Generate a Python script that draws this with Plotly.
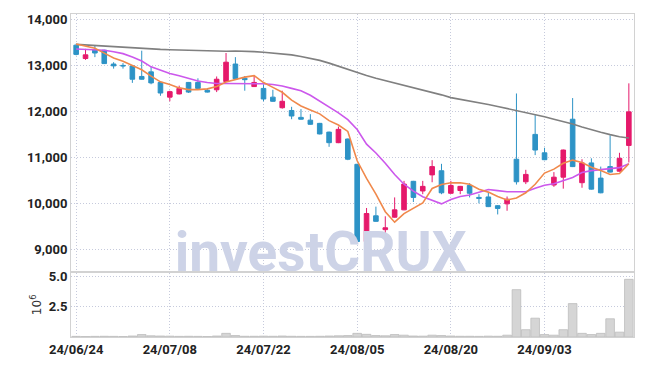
import plotly.graph_objects as go
from plotly.subplots import make_subplots

dates = ["24/06/24","24/06/25","24/06/26","24/06/27","24/06/28",
         "24/07/01","24/07/02","24/07/03","24/07/04","24/07/05",
         "24/07/08","24/07/09","24/07/10","24/07/11","24/07/12",
         "24/07/15","24/07/16","24/07/17","24/07/18","24/07/19",
         "24/07/22","24/07/23","24/07/24","24/07/25","24/07/26",
         "24/07/29","24/07/30","24/07/31","24/08/01","24/08/02",
         "24/08/05","24/08/06","24/08/07","24/08/08","24/08/09",
         "24/08/12","24/08/13","24/08/14","24/08/16","24/08/19",
         "24/08/20","24/08/21","24/08/22","24/08/23","24/08/26",
         "24/08/27","24/08/28","24/08/29","24/08/30","24/09/02",
         "24/09/03","24/09/04","24/09/05","24/09/06","24/09/09",
         "24/09/10","24/09/11","24/09/12","24/09/13","24/09/19"]

open_ = [13450,13160,13350,13340,13040,13010,13000,12770,12870,12640,
         12320,12390,12640,12640,12470,12480,12660,13040,12730,12550,
         12510,12320,12090,12030,11880,11820,11750,11560,11330,11410,
         10860,9180,9740,9440,9710,9870,10490,10280,10630,10720,
         10230,10290,10400,10140,10150,9960,10000,10970,10480,11510,
         11110,10410,10580,11840,10460,10890,10560,10810,10710,11270]
high = [13480,13370,13440,13350,13080,13060,13010,13330,12980,12650,
        12460,12570,12650,12730,12510,12770,13280,13190,12780,12790,
        12600,12480,12460,12110,12060,11950,11760,11570,11680,11420,
        10870,9910,9940,9730,10140,10500,10500,10500,10950,10870,
        10500,10390,10450,10210,10240,9970,10160,12400,10740,11930,
        11220,10690,11180,12300,10970,10990,10810,11490,11110,12620]
low = [13230,13130,13190,13040,12940,12940,12630,12700,12600,12350,
       12230,12380,12410,12500,12420,12430,12650,12710,12460,12540,
       12230,12220,12070,11840,11830,11720,11510,11240,11320,10950,
       9170,9170,9610,9290,9700,9860,10040,10210,10470,10210,
       10220,10210,10140,10010,9930,9770,9850,10420,10430,11060,
       10950,10370,10330,10800,10350,10310,10230,10680,10700,10900]
close = [13250,13240,13280,13050,13000,13000,12710,12710,12630,12410,
         12440,12510,12430,12510,12430,12710,13080,12720,12700,12640,
         12280,12230,12230,11910,11840,11730,11520,11330,11620,10970,
         9180,9790,9620,9480,9870,10430,10140,10380,10810,10240,
         10400,10380,10230,10120,9940,9900,10100,10480,10640,11170,
         10960,10580,11170,10810,10890,10320,10240,10690,10990,12000]

ma5 = [13474,13432,13383,13277,13170,13100,13011,12915,12777,12653,
       12596,12521,12483,12483,12500,12553,12649,12702,12755,12787,
       12638,12532,12426,12255,12128,12043,11957,11809,11713,11574,
       10936,10553,10213,9830,9602,9787,9904,10021,10334,10419,
       10457,10457,10426,10319,10255,10160,10085,10128,10240,10426,
       10670,10755,10883,10951,10900,10798,10723,10638,10660,10872]
ma20 = [13368,13362,13355,13340,13309,13266,13191,13106,12979,12904,
        12836,12787,12734,12670,12638,12617,12617,12617,12617,12617,
        12610,12596,12564,12511,12457,12362,12234,12106,11979,11830,
        11617,11298,11106,10883,10638,10426,10277,10155,10085,10000,
        10096,10160,10191,10255,10313,10287,10262,10262,10262,10340,
        10404,10436,10511,10574,10681,10723,10745,10766,10787,10872]
ma120 = [13468,13455,13440,13428,13410,13394,13385,13375,13365,13358,
         13351,13343,13335,13327,13320,13313,13318,13322,13320,13310,
         13295,13280,13262,13240,13205,13165,13120,13060,12990,12920,
         12851,12790,12730,12680,12625,12574,12525,12478,12430,12370,
         12310,12275,12240,12205,12160,12117,12075,12030,11985,11940,
         11894,11840,11790,11735,11670,11606,11555,11505,11460,11432]

volume_m = [0.05,0.04,0.05,0.06,0.05,0.04,0.08,0.2,0.1,0.08,
            0.07,0.05,0.06,0.05,0.04,0.08,0.3,0.12,0.06,0.06,
            0.07,0.06,0.08,0.06,0.05,0.05,0.06,0.08,0.1,0.12,
            0.3,0.22,0.12,0.1,0.2,0.15,0.08,0.07,0.15,0.12,
            0.08,0.06,0.06,0.05,0.07,0.06,0.15,3.9,0.6,1.55,
            0.2,0.15,0.6,2.75,0.3,0.2,0.3,1.5,0.4,4.75]

tick_every = 10
x = list(range(len(dates)))
tickvals = x[::tick_every]
ticktext = dates[::tick_every]

UP = "#e5196b"
DOWN = "#2d93c6"
GRID = "#c6cadc"
FONT = "Roboto"

fig = make_subplots(rows=2, cols=1, shared_xaxes=True, vertical_spacing=0.004,
                    row_heights=[0.8, 0.2])

# watermark (behind data)
fig.add_trace(go.Scatter(x=[26.1], y=[8835], mode="text", text=["investCRUX"],
                         textfont=dict(family="Roboto", size=55, color="#cdd3e7", weight="bold"),
                         textposition="middle center", cliponaxis=False,
                         hoverinfo="skip", showlegend=False), row=1, col=1)

fig.add_trace(go.Candlestick(x=x, open=open_, high=high, low=low, close=close,
                             increasing=dict(line=dict(color=UP, width=1), fillcolor=UP),
                             decreasing=dict(line=dict(color=DOWN, width=1), fillcolor=DOWN),
                             whiskerwidth=0, showlegend=False), row=1, col=1)

fig.add_trace(go.Scatter(x=x, y=ma120, mode="lines", line=dict(color="#808080", width=1.6),
                         showlegend=False), row=1, col=1)
fig.add_trace(go.Scatter(x=x, y=ma20, mode="lines", line=dict(color="#cc58ec", width=1.6),
                         showlegend=False), row=1, col=1)
fig.add_trace(go.Scatter(x=x, y=ma5, mode="lines", line=dict(color="#f0894c", width=1.6),
                         showlegend=False), row=1, col=1)

fig.add_trace(go.Bar(x=x, y=volume_m, marker=dict(color="#d5d5d5", line=dict(color="#bcbcbc", width=0.8)),
                     showlegend=False), row=2, col=1)

axis_common = dict(showline=True, linecolor="#d2d2d2", linewidth=1, mirror=True,
                   showgrid=True, gridcolor=GRID, griddash="1px,2px", gridwidth=1,
                   zeroline=False, ticks="",
                   tickfont=dict(family=FONT, size=13, color="#222222", weight="bold"))

fig.update_xaxes(**axis_common, range=[-0.55, 59.55], tickmode="array",
                 tickvals=tickvals, ticktext=ticktext, rangeslider=dict(visible=False))
fig.update_xaxes(showticklabels=False, row=1, col=1)
fig.update_yaxes(**axis_common)
fig.update_yaxes(range=[8532, 14128], tickvals=[9000, 10000, 11000, 12000, 13000, 14000],
                 tickformat=",d", row=1, col=1)
fig.update_yaxes(range=[0, 5.3], tickvals=[2.5, 5.0], ticktext=["2.5", "5.0"],
                 title=dict(text="10<sup>6</sup>", font=dict(family="DejaVu Sans", size=12, color="#333"),
                            standoff=4), row=2, col=1)

fig.update_layout(width=645, height=367, margin=dict(l=71, r=10, t=10, b=29),
                  paper_bgcolor="white", plot_bgcolor="white", bargap=0.08,
                  font=dict(family=FONT))

fig.write_html("out.html")
